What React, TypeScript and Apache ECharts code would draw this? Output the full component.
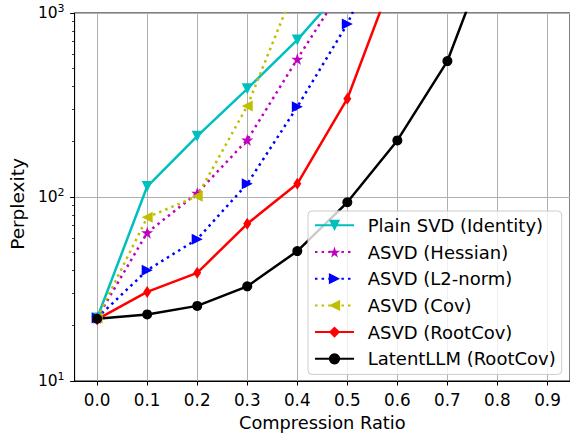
import React, { useEffect, useRef } from "react";
import * as echarts from "echarts";

const ratios = [0.0, 0.1, 0.2, 0.3, 0.4, 0.5, 0.6, 0.7, 0.8];
const seriesNames = [
  "Plain SVD (Identity)",
  "ASVD (Hessian)",
  "ASVD (L2-norm)",
  "ASVD (Cov)",
  "ASVD (RootCov)",
  "LatentLLM (RootCov)",
];
const plainSvd = [22, 114, 214, 387, 714, 1450];
const asvdHessian = [22, 64, 105, 204, 562, 1500];
const asvdL2 = [22, 40, 59, 118, 309, 872, 3500];
const asvdCov = [22, 77.5, 101, 312, 1480];
const asvdRootCov = [21.6, 30.5, 38.7, 71.5, 118, 342, 1800];
const latentLLM = [21.8, 23, 25.6, 32.7, 50.8, 93.6, 203, 548, 2850];

const xTicks = [0.0, 0.1, 0.2, 0.3, 0.4, 0.5, 0.6, 0.7, 0.8, 0.9];
const yMinorTicks = [20, 30, 40, 50, 60, 70, 80, 90, 200, 300, 400, 500, 600, 700, 800, 900];

const STAR =
  "path://M0,-1 L0.2245,-0.309 L0.951,-0.309 L0.363,0.118 L0.588,0.809 L0,0.382 L-0.588,0.809 L-0.363,0.118 L-0.951,-0.309 L-0.2245,-0.309 Z";

const FONT = "DejaVu Sans";

function pairs(vals: number[]) {
  return vals.map((v, i) => [ratios[i], v]);
}

export default function App() {
  const ref = useRef<HTMLDivElement>(null);
  useEffect(() => {
    document.body.style.margin = "0";
    if (!ref.current) return;
    const chart = echarts.init(ref.current, null, { renderer: "svg" });
    const dotted = [2.5, 4.1];
    const mk = (
      name: string,
      vals: number[],
      color: string,
      symbol: string,
      size: any,
      rotate: number,
      type: any
    ) => ({
      name,
      type: "line",
      data: pairs(vals),
      symbol,
      symbolSize: size,
      symbolRotate: rotate,
      showSymbol: true,
      clip: true,
      itemStyle: { color, borderWidth: 0 },
      lineStyle: { color, width: 2.5, type, cap: "butt" },
      emphasis: { disabled: true },
    });
    chart.setOption({
      animation: false,
      textStyle: { fontFamily: FONT },
      grid: {
        left: 73,
        top: 13,
        right: 0,
        bottom: 53,
        show: true,
        borderColor: "#000",
        borderWidth: 1,
        backgroundColor: "transparent",
      },
      legend: {
        orient: "vertical",
        left: 308,
        top: 211,
        itemWidth: 39,
        itemHeight: 14,
        itemGap: 6.7,
        padding: [4.3, 6, 5.6, 6],
        borderColor: "#cccccc",
        borderWidth: 1,
        borderRadius: 4,
        backgroundColor: "rgba(255,255,255,0.8)",
        textStyle: {
          fontFamily: FONT,
          fontSize: 18,
          lineHeight: 20,
          color: "#000",
          padding: [0, 0, 0, 8.7],
        },
        data: seriesNames,
      },
      xAxis: {
        type: "value",
        min: -0.045,
        max: 0.945,
        name: "Compression Ratio",
        nameLocation: "middle",
        nameGap: 32,
        nameTextStyle: { fontFamily: FONT, fontSize: 17.8, color: "#000" },
        axisLine: { show: true, onZero: false, lineStyle: { color: "#000", width: 1 } },
        axisTick: { show: true, length: 4.5, customValues: xTicks, lineStyle: { color: "#000" } },
        axisLabel: {
          customValues: xTicks,
          formatter: (v: number) => v.toFixed(1),
          fontFamily: FONT,
          fontSize: 16.8,
          color: "#000",
          margin: 10,
        },
        splitLine: { show: true, lineStyle: { color: "#b0b0b0", width: 1 } },
      },
      yAxis: [
        {
          type: "log",
          logBase: 10,
          min: 10,
          max: 1000,
          name: "Perplexity",
          nameLocation: "middle",
          nameGap: 45,
          nameTextStyle: {
            fontFamily: FONT,
            fontSize: 18.5,
            color: "#000",
            padding: [0, 14, 0, 0],
          },
          axisLine: { show: true, onZero: false, lineStyle: { color: "#000", width: 1 } },
          axisTick: { show: true, length: 4.5, lineStyle: { color: "#000" } },
          axisLabel: {
            formatter: (v: number) => {
              const e = String(Math.round(Math.log10(v)));
              return "{a|10}{b|" + e + "}";
            },
            rich: {
              a: { fontFamily: FONT, fontSize: 15.5, color: "#000" },
              b: { fontFamily: FONT, fontSize: 11, color: "#000", padding: [0, 0, 9, 0] },
            },
            margin: 10,
          },
          splitLine: { show: true, lineStyle: { color: "#b0b0b0", width: 1 } },
        },
        {
          type: "value",
          min: 1,
          max: 3,
          position: "left",
          axisLine: { show: false, onZero: false },
          axisLabel: { show: false },
          splitLine: { show: false },
          axisTick: {
            show: true,
            length: 2.5,
            customValues: yMinorTicks.map((v) => Math.log10(v)),
            lineStyle: { color: "#000", width: 0.8 },
          },
        },
      ],
      series: [
        mk(seriesNames[0], plainSvd, "#00bfbf", "triangle", 11, 180, "solid"),
        mk(seriesNames[1], asvdHessian, "#bf00bf", STAR, 12, 0, dotted),
        mk(seriesNames[2], asvdL2, "#0000ff", "triangle", 11, -90, dotted),
        mk(seriesNames[3], asvdCov, "#bfbf00", "triangle", 11, 90, dotted),
        mk(seriesNames[4], asvdRootCov, "#ff0000", "diamond", [8, 12], 0, "solid"),
        mk(seriesNames[5], latentLLM, "#000000", "circle", 10, 0, "solid"),
      ],
    });
    return () => chart.dispose();
  }, []);
  return <div ref={ref} style={{ width: 570, height: 436 }} />;
}
